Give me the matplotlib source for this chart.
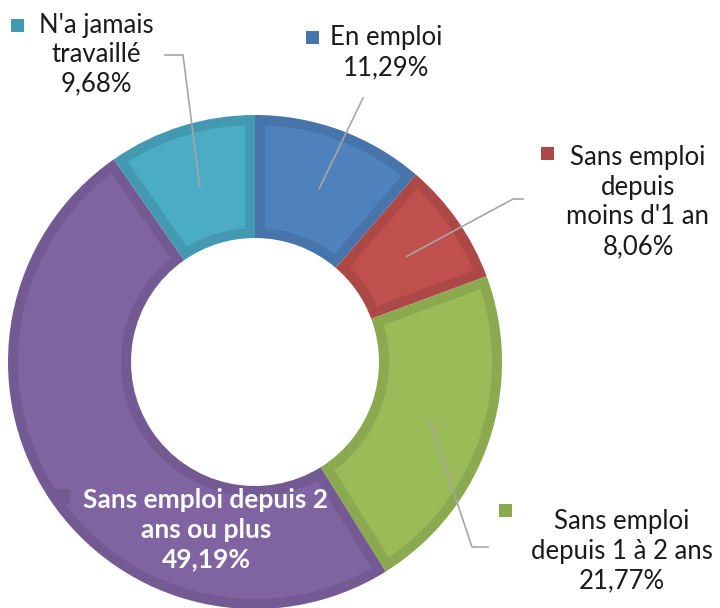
import numpy as np
import matplotlib
matplotlib.use("Agg")
import matplotlib.pyplot as plt
from matplotlib.patches import Rectangle, Polygon

categories = ["En emploi", "Sans emploi\ndepuis\nmoins d'1 an", "Sans emploi\ndepuis 1 à 2 ans",
              "Sans emploi depuis 2\nans ou plus", "N'a jamais\ntravaillé"]
values = [11.29, 8.06, 21.77, 49.19, 9.68]
value_labels = ["11,29%", "8,06%", "21,77%", "49,19%", "9,68%"]

colors = ["#4F81BD", "#C0504D", "#9BBB59", "#8064A2", "#4BACC6"]
edges = ["#4674AB", "#AC4846", "#8BA94F", "#735A92", "#4399B1"]

plt.rcParams['font.family'] = ['Lato', 'DejaVu Sans']

W, H = 720, 608
fig = plt.figure(figsize=(7.2, 6.08), dpi=100)
ax = fig.add_axes([0, 0, 1, 1])

def Y(py):
    return H - py

cx, cy = 255, 362
R, r_in = 247, 124
b = 10  # border width in px
wedges, _ = ax.pie(values, colors=edges, startangle=90, counterclock=False,
                   center=(cx, Y(cy)), radius=R, frame=True,
                   wedgeprops=dict(width=R - r_in, linewidth=0))
ax.set_xlim(0, W)
ax.set_ylim(0, H)
ax.set_aspect('equal')
ax.axis('off')

# inner fill inset by border width b (straight-edged inset)
for w, fc in zip(wedges, colors):
    t1, t2 = np.deg2rad(w.theta1), np.deg2rad(w.theta2)
    ro, ri = R - b, r_in + b
    ao = np.arcsin(b / ro)
    ai = np.arcsin(b / ri)
    to = np.linspace(t1 + ao, t2 - ao, 100)
    ti = np.linspace(t2 - ai, t1 + ai, 100)
    xs = np.concatenate([cx + ro * np.cos(to), cx + ri * np.cos(ti)])
    ys = np.concatenate([Y(cy) + ro * np.sin(to), Y(cy) + ri * np.sin(ti)])
    ax.add_patch(Polygon(np.column_stack([xs, ys]), closed=True,
                         facecolor=fc, edgecolor='none'))

# mid angles
cum = np.cumsum([0] + values)
total = sum(values)
def point(i, rad):
    mid = (cum[i] + cum[i + 1]) / 2 / total
    ang = np.deg2rad(90 - 360 * mid)
    return cx + rad * np.cos(ang), Y(cy - rad * np.sin(ang))

fs = 18.5
lc = "#A6A6A6"

layout = {
    0: dict(tx=386, ty=38, sx=312, sy=37, path=[(363, 98)]),
    1: dict(tx=638, ty=158, sx=547, sy=153, path=[(513, 199), (523, 199)]),
    2: dict(tx=622, ty=522, sx=505, sy=510, path=[(472, 547), (488, 547)]),
    4: dict(tx=96, ty=25, sx=17, sy=25, path=[(183, 55), (165, 55)]),
}
lh = 29.5
for i, L in layout.items():
    lines = categories[i].split("\n") + [value_labels[i]]
    for k, t in enumerate(lines):
        ax.text(L['tx'], Y(L['ty'] + k * lh), t, fontsize=fs, color="#1A1A1A",
                ha='center', va='center')
    s = 13
    ax.add_patch(Rectangle((L['sx'] - s / 2, Y(L['sy']) - s / 2), s, s,
                           facecolor=edges[i], edgecolor='none'))
    p0 = point(i, 185)
    xs = [p0[0]] + [p[0] for p in L['path']]
    ys = [p0[1]] + [Y(p[1]) for p in L['path']]
    ax.plot(xs, ys, color=lc, lw=1.2, solid_joinstyle='miter')

# purple label inside
i = 3
lines = categories[i].split("\n") + [value_labels[i]]
for k, t in enumerate(lines):
    ax.text(206, Y(500 + k * lh), t, fontsize=19, color="white", fontweight='bold',
            ha='center', va='center')
s = 15
ax.add_patch(Rectangle((62 - s / 2, Y(496) - s / 2), s, s,
                       facecolor=edges[i], edgecolor='none'))

fig.savefig("out.png", dpi=100)
